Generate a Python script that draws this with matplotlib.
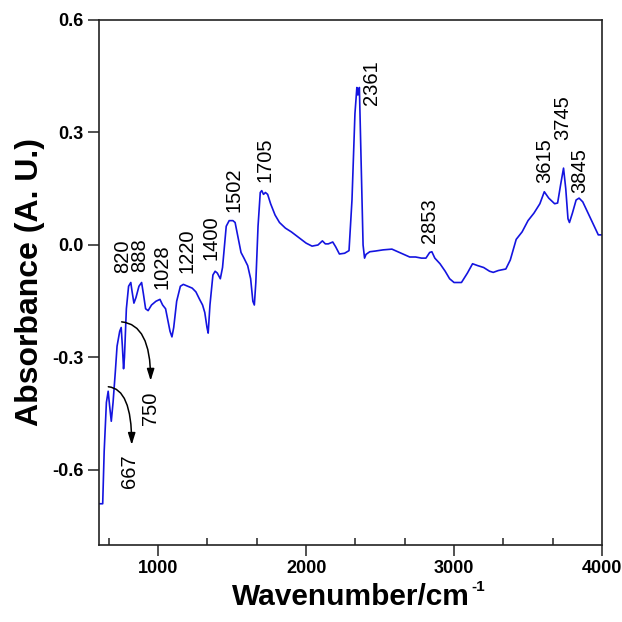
import matplotlib
matplotlib.use("Agg")
import matplotlib.pyplot as plt
from matplotlib import font_manager
from matplotlib.ticker import MultipleLocator, AutoMinorLocator, FormatStrFormatter

# FTIR absorbance spectrum (wavenumber in cm^-1, absorbance in A.U.)
wavenumber = [
    600, 625, 635, 650, 662, 672, 683, 695, 710, 722, 740, 750, 758, 766, 772,
    785, 800, 815, 822, 836, 850, 870, 888, 900, 915, 932, 955, 985, 1012,
    1030, 1050, 1065, 1080, 1093, 1105, 1125, 1150, 1170, 1200, 1230, 1255,
    1280, 1300, 1315, 1330, 1338, 1350, 1370, 1385, 1400, 1420, 1435, 1460,
    1480, 1505, 1520, 1540, 1560, 1580, 1605, 1625, 1640, 1650, 1660, 1675,
    1690, 1700, 1712, 1725, 1740, 1760, 1790, 1820, 1860, 1900, 1950, 2000,
    2040, 2080, 2110, 2130, 2150, 2180, 2200, 2225, 2260, 2290, 2310, 2330,
    2343, 2350, 2360, 2370, 2385, 2395, 2405, 2430, 2470, 2520, 2580, 2620,
    2660, 2700, 2740, 2780, 2810, 2835, 2850, 2870, 2905, 2940, 2970, 3000,
    3050, 3090, 3125, 3160, 3200, 3240, 3265, 3300, 3350, 3380, 3420, 3460,
    3500, 3540, 3580, 3610, 3640, 3680, 3700, 3720, 3740, 3755, 3770, 3780,
    3800, 3825, 3845, 3870, 3900, 3930, 3960, 3975, 4000,
]
absorbance = [
    -0.69, -0.69, -0.55, -0.42, -0.39, -0.43, -0.47, -0.42, -0.34, -0.27,
    -0.23, -0.22, -0.27, -0.33, -0.30, -0.17, -0.11, -0.10, -0.12, -0.155,
    -0.14, -0.11, -0.10, -0.13, -0.17, -0.175, -0.16, -0.15, -0.145, -0.16,
    -0.17, -0.20, -0.23, -0.245, -0.22, -0.15, -0.11, -0.105, -0.11, -0.115,
    -0.125, -0.145, -0.16, -0.18, -0.22, -0.235, -0.16, -0.08, -0.07, -0.075,
    -0.09, -0.06, 0.05, 0.065, 0.065, 0.06, 0.02, -0.02, -0.035, -0.055,
    -0.09, -0.15, -0.16, -0.10, 0.05, 0.14, 0.145, 0.135, 0.14, 0.135, 0.11,
    0.08, 0.06, 0.045, 0.035, 0.02, 0.005, -0.003, 0.0, 0.011, 0.003, 0.003,
    0.008, -0.005, -0.024, -0.022, -0.015, 0.12, 0.35, 0.42, 0.40, 0.42,
    0.25, 0.0, -0.035, -0.025, -0.018, -0.016, -0.013, -0.011, -0.018,
    -0.025, -0.032, -0.032, -0.035, -0.035, -0.02, -0.018, -0.035, -0.05,
    -0.07, -0.09, -0.10, -0.10, -0.075, -0.05, -0.055, -0.06, -0.07, -0.073,
    -0.068, -0.064, -0.04, 0.015, 0.035, 0.065, 0.085, 0.11, 0.142, 0.125,
    0.11, 0.112, 0.16, 0.205, 0.15, 0.07, 0.06, 0.085, 0.12, 0.125, 0.115,
    0.09, 0.065, 0.04, 0.027, 0.027,
]

# band assignments written next to the peaks (x centre, bottom y)
peak_labels = ["820", "888", "1028", "1220", "1400", "1502", "1705", "2361",
               "2853", "3615", "3745", "3845"]
peak_label_x = [757, 877, 1024, 1195, 1360, 1512, 1722, 2445,
                2836, 3614, 3735, 3850]
peak_label_y = [-0.075, -0.072, -0.117, -0.075, -0.04, 0.088, 0.168, 0.373,
                0.005, 0.165, 0.28, 0.139]

# bands marked with a curved arrow: label, arrow start, arrow tip, label spot
arrow_labels = ["667", "750"]
arrow_start = [(663, -0.378), (753, -0.205)]
arrow_tip = [(821, -0.533), (949, -0.362)]
arrow_label_pos = [(809, -0.648), (945, -0.48)]

names = {f.name for f in font_manager.fontManager.ttflist}
tick_family = "Liberation Sans Narrow" if "Liberation Sans Narrow" in names else "Liberation Sans"
tick_size = 15 if tick_family == "Liberation Sans Narrow" else 13

plt.rcParams.update({
    "font.family": "Liberation Sans",
    "axes.unicode_minus": False,
})

fig = plt.figure(figsize=(6.22, 6.22), dpi=100)
ax = fig.add_axes([99 / 622, 1 - 545 / 622, 503 / 622, 525 / 622])

ax.plot(wavenumber, absorbance, color="#1414e0", lw=1.2)

for txt, x, y in zip(peak_labels, peak_label_x, peak_label_y):
    ax.text(x, y, txt, rotation=90, ha="center", va="bottom", fontsize=14.5)

for txt, a0, a1, pos in zip(arrow_labels, arrow_start, arrow_tip, arrow_label_pos):
    ax.annotate("", xy=a1, xytext=a0,
                arrowprops=dict(arrowstyle="-|>,head_length=0.7,head_width=0.22",
                                connectionstyle="angle3,angleA=-5,angleB=90",
                                color="black", lw=1.1, shrinkA=0, shrinkB=0,
                                mutation_scale=10))
    ax.text(pos[0], pos[1], txt, rotation=90, ha="center", va="bottom", fontsize=14.5)

ax.set_xlim(600, 4000)
ax.set_ylim(-0.8, 0.6)
ax.xaxis.set_major_locator(MultipleLocator(1000))
ax.xaxis.set_minor_locator(AutoMinorLocator(3))
ax.yaxis.set_major_locator(MultipleLocator(0.3))
ax.yaxis.set_major_formatter(FormatStrFormatter("%.1f"))

ax.tick_params(axis="both", which="major", direction="out", length=8, width=1.1,
               pad=3, color="#222222")
ax.tick_params(axis="x", which="minor", direction="in", length=5, width=1.1,
               color="#222222")
for lab in ax.get_xticklabels() + ax.get_yticklabels():
    lab.set_family(tick_family)
    lab.set_fontweight("bold")
    lab.set_fontsize(tick_size)

for sp in ax.spines.values():
    sp.set_linewidth(1.2)
    sp.set_color("#222222")

ax.set_xlabel("Wavenumber/cm", fontsize=21.5, fontweight="bold", labelpad=4)
ax.set_ylabel("Absorbance (A. U.)", fontsize=23, fontweight="bold", labelpad=5)

# small superscript "-1" hung off the end of the x label
fig.canvas.draw()
bb = ax.xaxis.label.get_window_extent()
fig.text((bb.x1 + 2) / 622, (bb.y1 + 3) / 622, "-1", fontsize=11,
         fontweight="bold", ha="left", va="top")

fig.savefig("out.png", dpi=100)
